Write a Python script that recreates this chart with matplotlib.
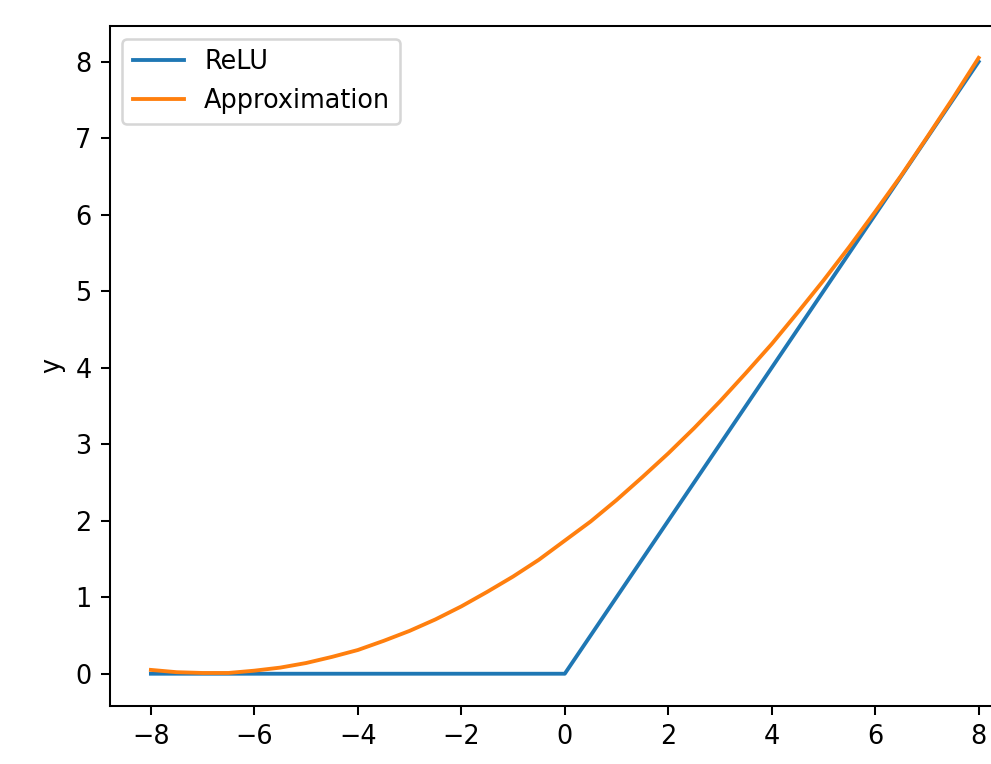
import matplotlib
matplotlib.use("Agg")
import matplotlib.pyplot as plt

# ReLU corners
relu_x = [-8, 0, 8]
relu_y = [0, 0, 8]

# approximation curve, every 0.5
approx_x = [-8.0, -7.5, -7.0, -6.5, -6.0, -5.5, -5.0, -4.5, -4.0, -3.5, -3.0,
            -2.5, -2.0, -1.5, -1.0, -0.5, 0.0, 0.5, 1.0, 1.5, 2.0, 2.5, 3.0,
            3.5, 4.0, 4.5, 5.0, 5.5, 6.0, 6.5, 7.0, 7.5, 8.0]
approx_y = [0.05, 0.02, 0.01, 0.01, 0.04, 0.08, 0.14, 0.22, 0.31, 0.43, 0.56,
            0.71, 0.88, 1.07, 1.27, 1.49, 1.74, 1.99, 2.27, 2.57, 2.88, 3.21,
            3.56, 3.93, 4.31, 4.72, 5.14, 5.58, 6.04, 6.51, 7.01, 7.52, 8.05]

DPI = 184
fig = plt.figure(figsize=(991 / DPI, 764 / DPI), dpi=DPI)
# the reference is a cropped figure: right side of the axes runs off the canvas
ax = fig.add_axes([0.1105, 0.0763, 0.9188, 0.8897])

ax.plot(relu_x, relu_y, label="ReLU")
ax.plot(approx_x, approx_y, label="Approximation")
ax.set_xlim(-8.8, 8.8)
ax.set_ylim(-0.418, 8.467)
ax.set_xlabel("x")
ax.set_ylabel("y")
ax.legend(loc="upper left")

fig.savefig("out.png", dpi=DPI)
